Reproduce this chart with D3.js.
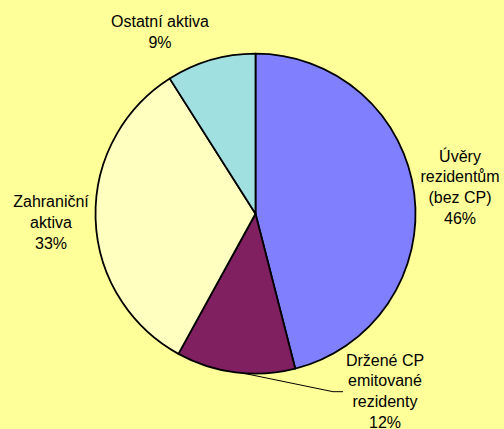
<!DOCTYPE html>
<html>
<head>
<meta charset="utf-8">
<script src="https://cdn.jsdelivr.net/npm/d3@7"></script>
<style>
  body { margin: 0; background: #FFFF99; }
  svg { display: block; }
  text { font-family: Arial, "Liberation Sans", sans-serif; font-size: 16px; fill: #000; }
</style>
</head>
<body>
<svg></svg>
<script>
let categories = ['Úvěry rezidentům (bez CP)', 'Držené CP emitované rezidenty', 'Zahraniční aktiva', 'Ostatní aktiva']
let values = [46, 12, 33, 9]
let labelLines = [
    ['Úvěry', 'rezidentům', '(bez CP)', '46%'],
    ['Držené CP', 'emitované', 'rezidenty', '12%'],
    ['Zahraniční', 'aktiva', '33%'],
    ['Ostatní aktiva', '9%']
]
let colors = ['#8080FF', '#802060', '#FFFFC0', '#A0E0E0']

let width = 504
let height = 429
let cx = 255.5
let cy = 213.7
let radius = 160
let lineHeight = 20.7

// label anchor (centre x, first baseline y) per slice
let labelPos = [[460, 161.7], [385, 365.7], [51, 207.3], [160, 27]]

let svg = d3.select('svg')
    .attr('width', width)
    .attr('height', height)

let pie = d3.pie().sort(null).value((d) => d)
let arcs = pie(values)

let arc = d3.arc().innerRadius(0).outerRadius(radius)

let g = svg.append('g')
    .attr('transform', 'translate(' + cx + ',' + cy + ')')

g.selectAll('path')
    .data(arcs)
    .enter()
    .append('path')
    .attr('d', arc)
    .attr('fill', (d, i) => colors[i])
    .attr('stroke', '#000')
    .attr('stroke-width', 1.8)
    .attr('stroke-linejoin', 'round')

// leader line for the small bottom slice
let a = arcs[1]
let mid = (a.startAngle + a.endAngle) / 2 - 0.05
let sx = cx + Math.sin(mid) * radius
let sy = cy - Math.cos(mid) * radius
let ex = labelPos[1][0] - 52
let ey = labelPos[1][1] + 26
svg.append('polyline')
    .attr('points', [[sx, sy], [ex, ey], [ex + 10, ey]].map((p) => p.join(',')).join(' '))
    .attr('fill', 'none')
    .attr('stroke', '#000')
    .attr('stroke-width', 1)

let labels = svg.selectAll('text.label')
    .data(labelLines)
    .enter()
    .append('text')
    .attr('class', 'label')
    .attr('text-anchor', 'middle')
    .attr('x', (d, i) => labelPos[i][0])
    .attr('y', (d, i) => labelPos[i][1])

labels.selectAll('tspan')
    .data((d, i) => d.map((t) => ({ t: t, i: i })))
    .enter()
    .append('tspan')
    .attr('x', (d) => labelPos[d.i][0])
    .attr('dy', (d, j) => j === 0 ? 0 : lineHeight)
    .text((d) => d.t)
</script>
</body>
</html>
